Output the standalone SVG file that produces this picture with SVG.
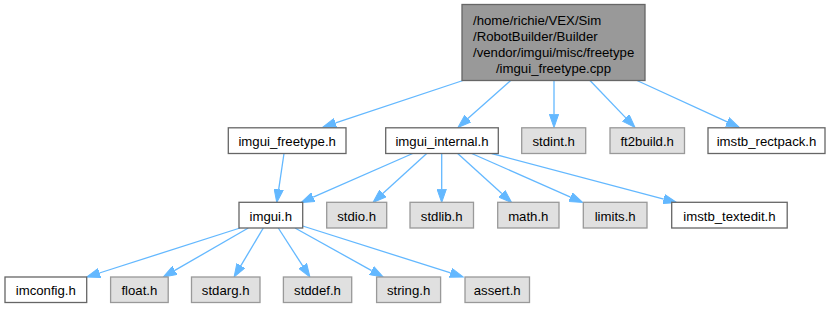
<svg xmlns="http://www.w3.org/2000/svg" width="835" height="309" viewBox="0 0 835 309">
  <style>
    .node rect { stroke-width: 1.3; }
    .plain rect { fill: #ffffff; stroke: #666666; }
    .sys rect { fill: #e0e0e0; stroke: #999999; }
    .root rect { fill: #999999; stroke: #666666; }
    text { font-family: "Liberation Sans", Arial, Helvetica, sans-serif; font-size: 13.2px; fill: #000000; }
    .c { text-anchor: middle; }
    .edges line { stroke: #63b8ff; stroke-width: 1.3; fill: none; marker-end: url(#arrow); }
  </style>
  <defs>
    <marker id="arrow" viewBox="0 -5 14 10" markerWidth="14" markerHeight="10" refX="0" refY="0" orient="auto" markerUnits="userSpaceOnUse">
      <path d="M0,-4.65 L13.3,0 L0,4.65 z" fill="#63b8ff" stroke="#63b8ff" stroke-width="1"/>
    </marker>
  </defs>
  <rect width="835" height="309" fill="#ffffff"/>

  <!-- dependency edges: each line stops at the arrow base, the marker supplies the head -->
  <g class="edges" id="edges">
    <line x1="463" y1="80.5" x2="335.6" y2="122.8"/>
    <line x1="510.7" y1="80.5" x2="467.9" y2="118.6"/>
    <line x1="554" y1="80.5" x2="554" y2="114.2"/>
    <line x1="590" y1="80.5" x2="625.8" y2="117.9"/>
    <line x1="637" y1="80.5" x2="727.2" y2="121.9"/>

    <line x1="284" y1="153.5" x2="278.7" y2="189.3"/>
    <line x1="412.7" y1="153.5" x2="313.2" y2="197.2"/>
    <line x1="426.7" y1="153.5" x2="382.8" y2="193.5"/>
    <line x1="441.7" y1="153.5" x2="441.7" y2="189.2"/>
    <line x1="457.7" y1="153.5" x2="501.8" y2="193.6"/>
    <line x1="471.7" y1="153.5" x2="570.5" y2="197.1"/>
    <line x1="491.7" y1="153.5" x2="663.8" y2="199.1"/>

    <line x1="240" y1="228" x2="99.4" y2="273"/>
    <line x1="248.3" y1="228" x2="174.8" y2="270.4"/>
    <line x1="263.3" y1="228" x2="240.9" y2="265.6"/>
    <line x1="278.3" y1="228" x2="302.7" y2="265.9"/>
    <line x1="295" y1="228" x2="371.6" y2="270.6"/>
    <line x1="302.7" y1="226" x2="450.6" y2="272.9"/>
  </g>

  <!-- source file -->
  <g class="node root" id="node-imgui_freetype_cpp">
    <rect x="462" y="4.5" width="183" height="76"/>
    <text x="473" y="25">/home/richie/VEX/Sim</text>
    <text x="473" y="41">/RobotBuilder/Builder</text>
    <text x="473" y="57">/vendor/imgui/misc/freetype</text>
    <text class="c" x="553.5" y="73">/imgui_freetype.cpp</text>
  </g>

  <!-- direct includes -->
  <g class="node plain" id="node-imgui_freetype_h">
    <rect x="228.3" y="127.8" width="117.7" height="25.7"/>
    <text class="c" x="287.2" y="146">imgui_freetype.h</text>
  </g>
  <g class="node plain" id="node-imgui_internal_h">
    <rect x="385.7" y="127.8" width="112.6" height="25.7"/>
    <text class="c" x="442" y="146">imgui_internal.h</text>
  </g>
  <g class="node sys" id="node-stdint_h">
    <rect x="521.7" y="127.8" width="64" height="25.7"/>
    <text class="c" x="553.7" y="146">stdint.h</text>
  </g>
  <g class="node sys" id="node-ft2build_h">
    <rect x="610" y="127.8" width="74.5" height="25.7"/>
    <text class="c" x="647.2" y="146">ft2build.h</text>
  </g>
  <g class="node plain" id="node-imstb_rectpack_h">
    <rect x="708" y="127.8" width="117" height="25.7"/>
    <text class="c" x="766.5" y="146">imstb_rectpack.h</text>
  </g>

  <!-- second level -->
  <g class="node plain" id="node-imgui_h">
    <rect x="239" y="202.3" width="63.7" height="25.7"/>
    <text class="c" x="270.8" y="220.5">imgui.h</text>
  </g>
  <g class="node sys" id="node-stdio_h">
    <rect x="326.7" y="202.3" width="60" height="25.7"/>
    <text class="c" x="356.7" y="220.5">stdio.h</text>
  </g>
  <g class="node sys" id="node-stdlib_h">
    <rect x="410" y="202.3" width="63.5" height="25.7"/>
    <text class="c" x="441.7" y="220.5">stdlib.h</text>
  </g>
  <g class="node sys" id="node-math_h">
    <rect x="497.7" y="202.3" width="61.3" height="25.7"/>
    <text class="c" x="528.3" y="220.5">math.h</text>
  </g>
  <g class="node sys" id="node-limits_h">
    <rect x="583.3" y="202.3" width="63.7" height="25.7"/>
    <text class="c" x="615.2" y="220.5">limits.h</text>
  </g>
  <g class="node plain" id="node-imstb_textedit_h">
    <rect x="671.7" y="202.3" width="115.5" height="25.7"/>
    <text class="c" x="729.4" y="220.5">imstb_textedit.h</text>
  </g>

  <!-- third level -->
  <g class="node plain" id="node-imconfig_h">
    <rect x="5" y="277" width="81.7" height="25.5"/>
    <text class="c" x="45.8" y="295.2">imconfig.h</text>
  </g>
  <g class="node sys" id="node-float_h">
    <rect x="110.6" y="277" width="57.6" height="25.5"/>
    <text class="c" x="139.4" y="295.2">float.h</text>
  </g>
  <g class="node sys" id="node-stdarg_h">
    <rect x="191.5" y="277" width="68.5" height="25.5"/>
    <text class="c" x="225.7" y="295.2">stdarg.h</text>
  </g>
  <g class="node sys" id="node-stddef_h">
    <rect x="283.4" y="277" width="68.3" height="25.5"/>
    <text class="c" x="317.5" y="295.2">stddef.h</text>
  </g>
  <g class="node sys" id="node-string_h">
    <rect x="376.6" y="277" width="64" height="25.5"/>
    <text class="c" x="408.6" y="295.2">string.h</text>
  </g>
  <g class="node sys" id="node-assert_h">
    <rect x="465" y="277" width="64.5" height="25.5"/>
    <text class="c" x="497.2" y="295.2">assert.h</text>
  </g>
</svg>
